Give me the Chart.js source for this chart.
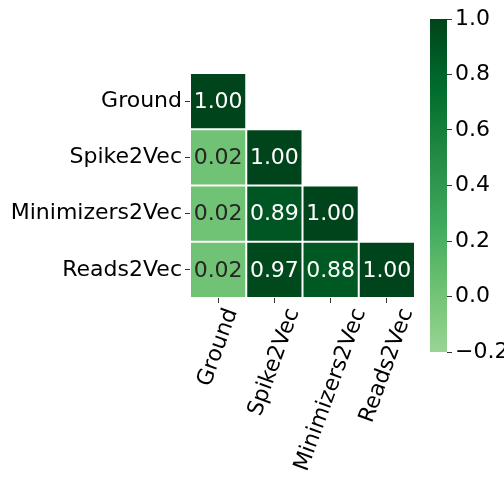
<!DOCTYPE html>
<html>
<head>
  <meta charset="utf-8" />
  <title>Correlation heatmap</title>
  <script src="https://cdn.jsdelivr.net/npm/chart.js"></script>
  <style>
    html, body { margin: 0; padding: 0; background: #fff; overflow: hidden; }
    #wrap { position: relative; width: 504px; height: 504px; }
    #heat { position: absolute; left: 0; top: 0; }
    #bar { position: absolute; left: 420px; top: 0; }
  </style>
</head>
<body>
  <div id="wrap">
    <canvas id="heat" width="504" height="504"></canvas>
    <canvas id="bar" width="100" height="504"></canvas>
  </div>

  <script>
    // datos
    const names = ['Ground', 'Spike2Vec', 'Minimizers2Vec', 'Reads2Vec'];
    const corrRows = [
      [1.00],
      [0.02, 1.00],
      [0.02, 0.89, 1.00],
      [0.02, 0.97, 0.88, 1.00]
    ];
    const vmin = -0.2;
    const vmax = 1.0;
    const cbTicks = [-0.2, 0.0, 0.2, 0.4, 0.6, 0.8, 1.0];

    const FONT = 'DejaVu Sans';
    const FS = 22;

    // Greens, usado de 0.4 a 1.0
    const greens = ['#f7fcf5', '#e5f5e0', '#c7e9c0', '#a1d99b', '#74c476', '#41ab5d', '#238b45', '#006d2c', '#00441b'];
    function hexRgb(h) {
      return [parseInt(h.slice(1, 3), 16), parseInt(h.slice(3, 5), 16), parseInt(h.slice(5, 7), 16)];
    }
    function cmap(v) {
      let t = 0.4 + 0.6 * (v - vmin) / (vmax - vmin);
      t = Math.max(0, Math.min(1, t));
      const p = t * (greens.length - 1);
      const i = Math.min(Math.floor(p), greens.length - 2);
      const f = p - i;
      const a = hexRgb(greens[i]), b = hexRgb(greens[i + 1]);
      const c = a.map((x, k) => Math.round(x + (b[k] - x) * f));
      return 'rgb(' + c.join(',') + ')';
    }

    // una serie por fila, barras flotantes de i-0.5 a i+0.5
    const datasets = corrRows.map((row, i) => ({
      label: names[i],
      data: names.map((_, j) => (j < row.length ? [i - 0.5, i + 0.5] : null)),
      backgroundColor: names.map((_, j) => (j < row.length ? cmap(row[j]) : 'transparent')),
      borderColor: '#fff',
      borderWidth: 1,
      borderSkipped: false,
      inflateAmount: 0,
      grouped: false,
      barPercentage: 1,
      categoryPercentage: 1
    }));

    const cellText = {
      id: 'cellText',
      afterDatasetsDraw(chart) {
        const ctx = chart.ctx;
        ctx.save();
        ctx.font = FS + 'px "' + FONT + '"';
        ctx.textAlign = 'center';
        ctx.textBaseline = 'middle';
        chart.data.datasets.forEach((ds, i) => {
          const meta = chart.getDatasetMeta(i);
          meta.data.forEach((el, j) => {
            if (j >= corrRows[i].length) return;
            const v = corrRows[i][j];
            ctx.fillStyle = v > 0.5 ? '#fff' : '#262626';
            ctx.fillText(v.toFixed(2), el.x, (el.y + el.base) / 2 + 1);
          });
        });
        ctx.restore();
      }
    };

    // etiquetas del eje x giradas 70 grados, centradas como en matplotlib
    const xLabels = {
      id: 'xLabels',
      afterDraw(chart) {
        const ctx = chart.ctx;
        const xs = chart.scales.x;
        const top = chart.chartArea.bottom + 7;
        const ang = 70 * Math.PI / 180;
        ctx.save();
        ctx.font = FS + 'px "' + FONT + '"';
        ctx.fillStyle = '#000';
        ctx.textAlign = 'center';
        ctx.textBaseline = 'middle';
        names.forEach((n, i) => {
          const w = ctx.measureText(n).width;
          const h = FS * 1.17;
          const H = w * Math.sin(ang) + h * Math.cos(ang);
          ctx.save();
          ctx.translate(xs.getPixelForTick(i), top + H / 2);
          ctx.rotate(-ang);
          ctx.fillText(n, 0, 0);
          ctx.restore();
        });
        ctx.restore();
      }
    };

    new Chart(document.getElementById('heat').getContext('2d'), {
      type: 'bar',
      data: { labels: names, datasets: datasets },
      options: {
        responsive: false,
        animation: false,
        layout: { padding: { top: 73, right: 89, left: 0, bottom: 0 } },
        plugins: { legend: { display: false }, tooltip: { enabled: false } },
        scales: {
          x: {
            offset: true,
            grid: { offset: false, drawOnChartArea: false, tickLength: 5, color: '#333' },
            border: { display: false },
            ticks: { display: false },
            afterFit: s => { s.height = 206; }
          },
          y: {
            type: 'linear',
            min: -0.5,
            max: 3.5,
            reverse: true,
            grid: { drawOnChartArea: false, tickLength: 5, color: '#333' },
            border: { display: false },
            afterBuildTicks: s => { s.ticks = names.map((_, i) => ({ value: i })); },
            ticks: {
              padding: 3,
              color: '#000',
              font: { family: FONT, size: FS },
              callback: v => names[v]
            },
            afterFit: s => { s.width = 190; }
          }
        }
      },
      plugins: [cellText, xLabels]
    });

    // barra de color
    new Chart(document.getElementById('bar').getContext('2d'), {
      type: 'bar',
      data: {
        labels: ['cb'],
        datasets: [{
          data: [[vmin, vmax]],
          borderWidth: 0,
          inflateAmount: 0,
          barPercentage: 1,
          categoryPercentage: 1,
          backgroundColor: c => {
            const chart = c.chart;
            const area = chart.chartArea;
            if (!area) return cmap(vmax);
            const ys = chart.scales.y;
            const g = chart.ctx.createLinearGradient(0, ys.getPixelForValue(vmin), 0, ys.getPixelForValue(vmax));
            for (let k = 0; k <= 24; k++) {
              g.addColorStop(k / 24, cmap(vmin + (vmax - vmin) * k / 24));
            }
            return g;
          }
        }]
      },
      options: {
        responsive: false,
        animation: false,
        layout: { padding: { top: 19, bottom: 152, left: 10, right: 0 } },
        plugins: { legend: { display: false }, tooltip: { enabled: false } },
        scales: {
          x: { display: false },
          y: {
            position: 'right',
            min: vmin,
            max: vmax,
            grid: { drawOnChartArea: false, tickLength: 5, color: '#333' },
            border: { display: false },
            afterBuildTicks: s => { s.ticks = cbTicks.map(v => ({ value: v })); },
            ticks: {
              padding: 3,
              color: '#000',
              font: { family: FONT, size: FS },
              callback: v => (Math.abs(v) < 1e-9 ? '0.0' : v.toFixed(1).replace('-', '\u2212'))
            },
            afterFit: s => { s.width = 73; }
          }
        }
      }
    });
  </script>
</body>
</html>
